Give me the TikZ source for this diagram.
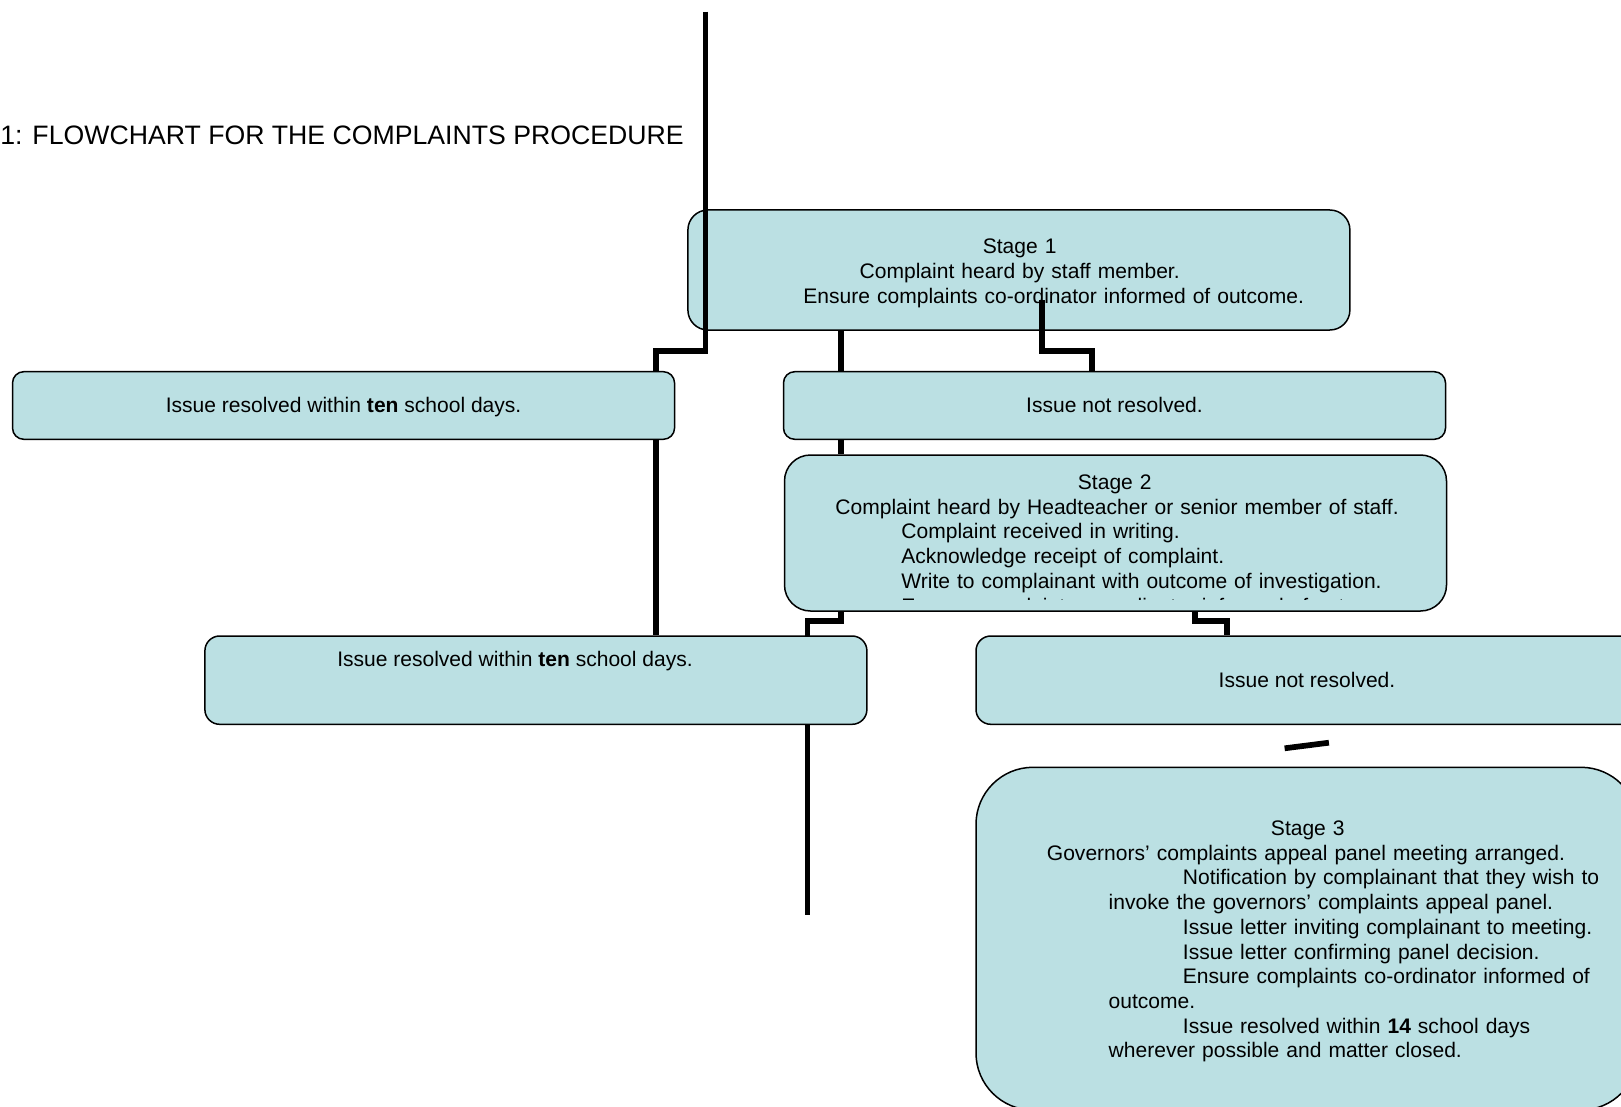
\documentclass[tikz,border=0pt]{standalone}
\usepackage{fontspec}
\setmainfont{Liberation Sans}
\usetikzlibrary{positioning}
\definecolor{boxfill}{RGB}{187,224,227}
\pgfdeclarelayer{back}
\pgfdeclarelayer{mid}
\pgfsetlayers{back,mid,main}
\tikzset{
	stagebox/.style={draw=black, line width=0.75pt, fill=boxfill, inner sep=0pt, minimum width=331pt},
	boxtext/.style={inner sep=0pt, font=\fontsize{10.52pt}{12.35pt}\selectfont},
	steps/.style={boxtext, text width=300pt, align=left, anchor=base west},
	heading/.style={inner sep=0pt, font=\fontsize{13.33pt}{15pt}\selectfont},
	link/.style={line width=2.85pt},
}

\begin{document}
\begin{tikzpicture}[x=0.5pt,y=-0.5pt]
	\useasboundingbox (0,0) rectangle (1621,1107);

	\node[heading, anchor=base west] (title) at (0,145) {1: FLOWCHART FOR THE COMPLAINTS PROCEDURE};

	% stage 1 lies under the connectors
	\begin{pgfonlayer}{back}
		\node[stagebox, minimum height=60pt, rounded corners=10pt] (s1) at (1018.9,270) {};
		\node[steps] (s1txt) at (803,254) {\hspace*{108.15pt}\makebox[0pt]{Stage 1}\\
			\hspace*{108.15pt}\makebox[0pt]{Complaint heard by staff member.}\\
			Ensure complaints co-ordinator informed of outcome.};
	\end{pgfonlayer}

	% first outcomes
	\node[stagebox, minimum height=33.8pt, rounded corners=5.6pt] (res1) at (343.55,405.5) {};
	\node[boxtext, anchor=base] (res1txt) at (343.6,412.5) {Issue resolved within \textbf{ten} school days.};
	\node[stagebox, minimum height=33.8pt, rounded corners=5.6pt] (nres1) at (1114.5,405.5) {};
	\node[boxtext, anchor=base] (nres1txt) at (1114.5,412.5) {Issue not resolved.};

	% stage 2, last line cut off by the box
	\node[stagebox, minimum height=78pt, rounded corners=13pt] (s2) at (1115.5,533) {};
	\coordinate (s2cut) at (1446.5,599.5);
	\begin{scope}
		\clip (s2.north west) rectangle (s2cut);
		\node[steps] (s2txt) at (835,489.5) {\hspace*{139.7pt}\makebox[0pt]{Stage 2}\\
			Complaint heard by Headteacher or senior member of staff.\\
			\hspace*{33pt}Complaint received in writing.\\
			\hspace*{33pt}Acknowledge receipt of complaint.\\
			\hspace*{33pt}Write to complainant with outcome of investigation.\\
			\hspace*{33pt}Ensure complaints co-ordinator informed of outcome.};
	\end{scope}

	% second outcomes
	\node[stagebox, minimum height=44.15pt, rounded corners=7.4pt] (res2) at (535.9,680.15) {};
	\node[boxtext, anchor=base] (res2txt) at (515,666.5) {Issue resolved within \textbf{ten} school days.};
	\node[stagebox, minimum height=44.15pt, rounded corners=7.4pt] (nres2) at (1307,680.15) {};
	\node[boxtext, anchor=base] (nres2txt) at (1307,687) {Issue not resolved.};

	% stage 3
	\node[stagebox, minimum height=171.35pt, rounded corners=28.5pt] (s3) at (1307,938.65) {};
	\node[steps] (s3txt) at (1046.5,835.5) {\hspace*{130.45pt}\makebox[0pt]{Stage 3}\\
		Governors’ complaints appeal panel meeting arranged.\\
		\hspace*{68pt}Notification by complainant that they wish to\\
		\hspace*{30.9pt}invoke the governors’ complaints appeal panel.\\
		\hspace*{68pt}Issue letter inviting complainant to meeting.\\
		\hspace*{68pt}Issue letter confirming panel decision.\\
		\hspace*{68pt}Ensure complaints co-ordinator informed of\\
		\hspace*{30.9pt}outcome.\\
		\hspace*{68pt}Issue resolved within \textbf{14} school days\\
		\hspace*{30.9pt}wherever possible and matter closed.};

	% connectors
	\coordinate (top) at (705.6,11.7);
	\coordinate (forkL) at (656,351.2);
	\coordinate (tail) at (1042,300);
	\coordinate (forkR) at (1042,351.2);
	\coordinate (down) at (840.7,621);
	\coordinate (downR) at (1195,621);
	\coordinate (bottom) at (807.5,915);
	\coordinate (tickA) at (1284.6,748.3);
	\coordinate (tickB) at (1328.9,742.7);
	\begin{pgfonlayer}{mid}
		\draw[link] (top) |- (forkL) -- (forkL |- res2.north);
		\draw[link] (tail) -- (forkR) -| ([xshift=-11.1pt]nres1.north);
		\draw[link] (s1.south -| down) -- (s2.north -| down);
		\draw[link] (s2.south -| down) -- (down) -| (bottom);
		\draw[link] (s2.south -| downR) -- (downR) -| ([xshift=-40pt]nres2.north);
		\draw[link] (tickA) -- (tickB);
	\end{pgfonlayer}
\end{tikzpicture}
\end{document}
